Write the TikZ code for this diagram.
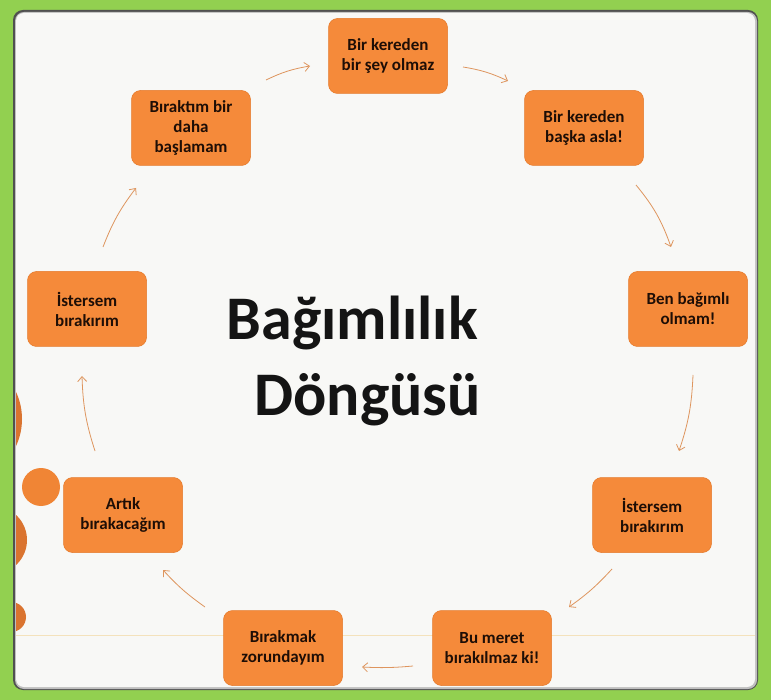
\documentclass[tikz,border=0pt]{standalone}
\usepackage{fontspec}
\setmainfont{Carlito}
\usetikzlibrary{arrows.meta}
\definecolor{framec}{HTML}{92D050}
\definecolor{shadowc}{HTML}{505050}
\definecolor{panelc}{HTML}{F8F8F6}
\definecolor{boxc}{HTML}{F58A3A}
\definecolor{boxd}{HTML}{E57A2C}
\definecolor{dotc}{HTML}{F08535}
\definecolor{dotd}{HTML}{DA7430}
\definecolor{txtc}{HTML}{1E0E06}
\definecolor{arrc}{HTML}{DE955E}
\definecolor{linec}{HTML}{F4E2BC}
\begin{document}
\begin{tikzpicture}[x=1pt,y=-1pt,
  stepbox/.style={rounded corners=9pt, fill=boxc, draw=boxd, line width=0.5pt,
    minimum width=119pt, minimum height=75pt, align=center, inner sep=2pt,
    text=txtc, font=\bfseries\fontsize{17}{20}\selectfont},
  titletext/.style={text=black!92, inner sep=0pt, font=\bfseries\fontsize{62}{70}\selectfont},
  arr/.style={draw=arrc, line width=0.8pt, -{Straight Barb[length=5pt,width=9pt]}}]
\useasboundingbox (0,0) rectangle (771,700);
\fill[framec] (0,0) rectangle (771,700);
\fill[shadowc, rounded corners=10pt] (13,10) rectangle (758,690);
\fill[black!25, rounded corners=9pt] (15,12) rectangle (757,689);
\fill[panelc, rounded corners=8pt] (16,13) rectangle (755,687);
\begin{scope}
  \clip[rounded corners=8pt] (16,13) rectangle (755,687);
  \fill[dotd] (-42,419) circle[radius=64];
  \fill[dotc] (41,487) circle[radius=19];
  \fill[dotd] (-7,540) circle[radius=34];
  \fill[dotd] (11,617) circle[radius=15];
  \draw[linec, line width=0.8pt] (16,635) -- (755,635);
\end{scope}
% boxes
\node[stepbox] (b1) at (388,56) {Bir kereden\\bir şey olmaz};
\node[stepbox] (b2) at (584,128) {Bir kereden\\başka asla!};
\node[stepbox] (b3) at (688,309) {Ben bağımlı\\olmam!};
\node[stepbox] (b4) at (652,515) {İstersem\\bırakırım};
\node[stepbox] (b5) at (492,648) {Bu meret\\bırakılmaz  ki!};
\node[stepbox] (b6) at (283,648) {Bırakmak\\zorundayım};
\node[stepbox] (b7) at (123,515) {Artık\\bırakacağım};
\node[stepbox] (b8) at (87,309) {İstersem\\bırakırım};
\node[stepbox] (b9) at (191,128) {Bıraktım bir\\daha\\başlamam};
% title
\node[titletext, anchor=base east] (t1) at (478,340) {Bağımlılık};
\node[titletext, anchor=base east] (t2) at (481,415) {Döngüsü};
% arrow ends
\coordinate (s1) at (266,80);  \coordinate (e1) at (310,66);
\coordinate (s2) at (463,67);  \coordinate (e2) at (508,81);
\coordinate (s3) at (636,185); \coordinate (e3) at (671,247);
\coordinate (s4) at (693,375); \coordinate (e4) at (679,451);
\coordinate (s5) at (612,569); \coordinate (e5) at (569,607);
\coordinate (s6) at (413,666); \coordinate (e6) at (362,667);
\coordinate (s7) at (205,607); \coordinate (e7) at (163,570);
\coordinate (s8) at (95,451);  \coordinate (e8) at (82,376);
\coordinate (s9) at (103,247); \coordinate (e9) at (136,188);
\draw[arr] (s1) to[bend left=8] (e1);
\draw[arr] (s2) to[bend left=8] (e2);
\draw[arr] (s3) to[bend left=10] (e3);
\draw[arr] (s4) to[bend left=8] (e4);
\draw[arr] (s5) to[bend left=6] (e5);
\draw[arr] (s6) to[bend left=4] (e6);
\draw[arr] (s7) to[bend left=6] (e7);
\draw[arr] (s8) to[bend left=8] (e8);
\draw[arr] (s9) to[bend left=8] (e9);
\end{tikzpicture}
\end{document}
